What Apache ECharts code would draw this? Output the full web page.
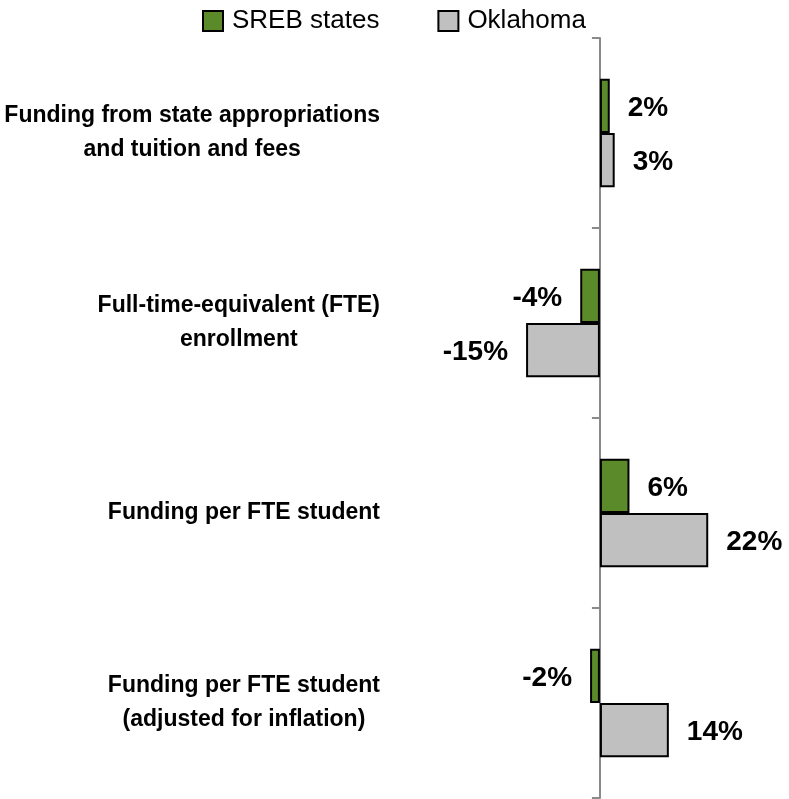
<!DOCTYPE html>
<html>
<head>
<meta charset="utf-8">
<title>SREB states vs Oklahoma</title>
<script src="https://cdn.jsdelivr.net/npm/echarts@6/dist/echarts.min.js"></script>
<style>
  html, body { margin: 0; padding: 0; background: #fff; }
  #chart { width: 789px; height: 799px; }
</style>
</head>
<body>
<div id="chart"></div>
<script>
// categories, top to bottom
const categories = [
    'Funding from state appropriations\nand tuition and fees',
    'Full-time-equivalent (FTE)\nenrollment',
    'Funding per FTE student',
    'Funding per FTE student\n(adjusted for inflation)'
]
const seriesNames = ['SREB states', 'Oklahoma']
// percent change
const srebValues = [2, -4, 6, -2]
const oklahomaValues = [3, -15, 22, 14]

const FONT = 'Liberation Sans, Arial, Helvetica, sans-serif'

// put the value label outside the bar end, on the side the bar grows
function toData(values) {
    return values.map(v => ({
        value: v,
        label: { position: v < 0 ? 'left' : 'right' }
    }))
}

const barLabel = {
    show: true,
    distance: 18,
    offset: [0, 2],
    formatter: p => p.value + '%',
    color: '#000',
    fontFamily: FONT,
    fontWeight: 'bold',
    fontSize: 28
}

const chart = echarts.init(document.getElementById('chart'))

const option = {
    animation: false,
    textStyle: { fontFamily: FONT },
    legend: {
        data: seriesNames,
        icon: 'rect',
        left: 197,
        top: 3,
        itemWidth: 20,
        itemHeight: 20,
        itemGap: 58,
        textStyle: {
            color: '#000',
            fontSize: 26,
            fontFamily: FONT,
            padding: [0, 0, 0, 4]
        }
    },
    grid: {
        left: 403,
        right: 2,
        top: 38,
        bottom: 1,
        containLabel: false,
        outerBoundsMode: 'none'
    },
    xAxis: {
        type: 'value',
        min: -40,
        max: 38,
        show: false
    },
    yAxis: {
        type: 'category',
        inverse: true,
        data: categories,
        axisLine: {
            show: true,
            onZero: true,
            lineStyle: { color: '#8a8a8a', width: 2 }
        },
        axisTick: {
            show: true,
            alignWithLabel: false,
            length: 8,
            lineStyle: { color: '#8a8a8a', width: 2 }
        },
        axisLabel: {
            // labels stay at the plot's left edge
            margin: 23,
            align: 'right',
            formatter: v => v.split('\n').map(line => '{c|' + line + '}').join('\n'),
            rich: {
                c: {
                    align: 'center',
                    color: '#000',
                    fontFamily: FONT,
                    fontWeight: 'bold',
                    fontSize: 23,
                    lineHeight: 34
                }
            }
        }
    },
    series: [
        {
            name: seriesNames[0],
            type: 'bar',
            data: toData(srebValues),
            barGap: '0%',
            barCategoryGap: '43%',
            itemStyle: { color: '#5b8a2b', borderColor: '#000', borderWidth: 2 },
            label: barLabel
        },
        {
            name: seriesNames[1],
            type: 'bar',
            data: toData(oklahomaValues),
            barGap: '0%',
            barCategoryGap: '43%',
            itemStyle: { color: '#c0c0c0', borderColor: '#000', borderWidth: 2 },
            label: barLabel
        }
    ]
}

chart.setOption(option)
</script>
</body>
</html>
